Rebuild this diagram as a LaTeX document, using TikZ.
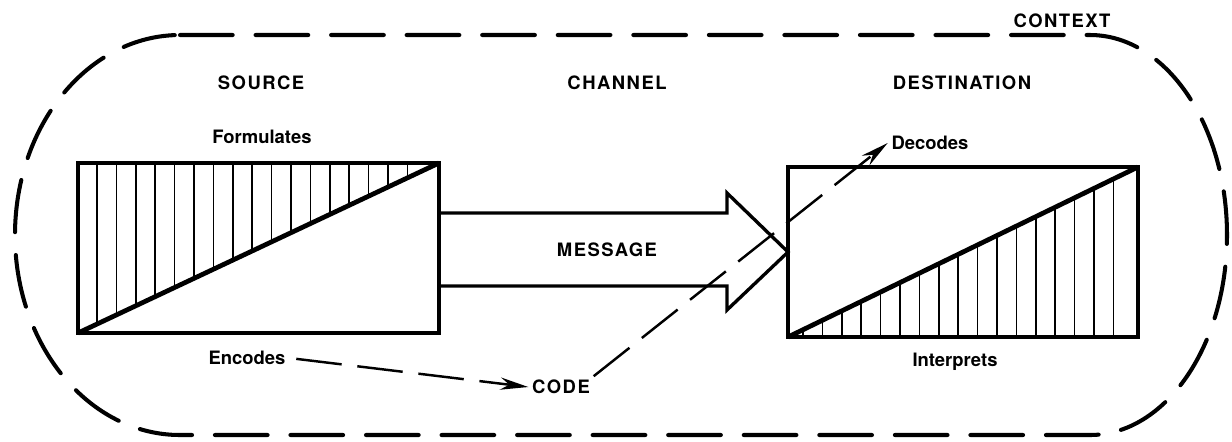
\documentclass[tikz,border=0pt]{standalone}
\usepackage{fontspec}
\setmainfont{TeX Gyre Heros}
\usetikzlibrary{arrows.meta,positioning}

\begin{document}
\begin{tikzpicture}[x=0.02cm, y=-0.02cm,
    lbl/.style={font=\fontsize{10.5}{12}\selectfont\bfseries, inner sep=2pt},
    caps/.style={lbl, font=\fontsize{10.5}{12}\selectfont\bfseries\addfontfeatures{LetterSpace=8}},
    box/.style={draw, line width=2.4pt, minimum height=3.4cm, inner sep=0pt, outer sep=0pt},
    diag/.style={line width=2.7pt},
    hatch/.style={line width=1pt},
    blk/.style={line width=1.9pt, line join=miter},
    ctx/.style={line width=2.3pt, line cap=round, dash pattern=on 30pt off 13pt},
    codearr/.style={line width=1.4pt, dash pattern=on 26pt off 9pt,
                    -{Stealth[length=16pt, width=7pt]}}
  ]
  \useasboundingbox (0,0) rectangle (1232,441);
  % context outline
  \draw[ctx] (180,35) -- (1090,35)
    arc[start angle=-90, end angle=90, x radius=137, y radius=200]
    -- (180,435)
    arc[start angle=90, end angle=270, x radius=165, y radius=200] -- cycle;
  \node[caps] (ctxl) at (1062,21) {CONTEXT};
  \node[caps] (srcl) at (261,83) {SOURCE};
  \node[caps] (chl) at (617,83) {CHANNEL};
  \node[caps] (dstl) at (962,83) {DESTINATION};

  % the two boxes
  \node[box, minimum width=7.22cm] (src) at (258.5,248) {};
  \node[box, minimum width=7cm] (dst) at (963,252) {};
  \begin{scope}
    \clip (src.south west) -- (src.north east) -- (src.north west) -- cycle;
    \foreach \i in {0,...,16}
      \draw[hatch] (97+19.4*\i,150) -- ++(0,200);
  \end{scope}
  \begin{scope}
    \clip (dst.south west) -- (dst.north east) -- (dst.south east) -- cycle;
    \foreach \i in {0,...,16}
      \draw[hatch] (803+19.4*\i,150) -- ++(0,200);
  \end{scope}
  \draw[diag] (src.south west) -- (src.north east);
  \draw[diag] (dst.south west) -- (dst.north east);

  % message arrow
  \draw[blk] (src.east |- 0,213) -- (727,213) -- (727,193) -- (dst.west)
    -- (727,310) -- (727,286) -- (src.east |- 0,286);
  \node[caps] (msg) at (607,250) {MESSAGE};

  \node[lbl] (form) at (262,137) {Formulates};
  \node[lbl] (dec) at (930,143) {Decodes};
  \node[lbl] (enc) at (247,358) {Encodes};
  \node[caps] (code) at (561,387) {CODE};
  \node[lbl] (intp) at (955,362) {Interprets};

  \draw[codearr, shorten <=4pt] (enc.east) -- (code.west);
  \draw[codearr] (code.north east) -- (dec.west);
\end{tikzpicture}
\end{document}
